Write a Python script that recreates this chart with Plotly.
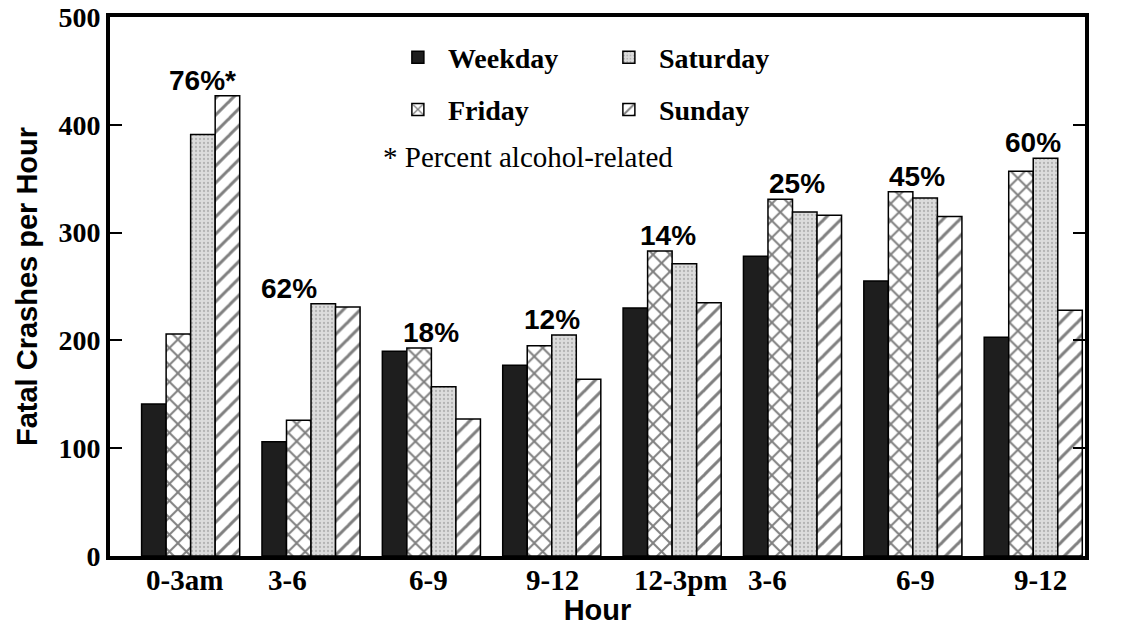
import plotly.graph_objects as go

hours = ["0-3am", "3-6", "6-9", "9-12", "12-3pm", "3-6", "6-9", "9-12"]
weekday = [141, 106, 190, 177, 230, 278, 255, 203]
friday = [206, 126, 193, 195, 283, 331, 338, 357]
saturday = [391, 234, 157, 205, 271, 319, 332, 369]
sunday = [427, 231, 127, 164, 235, 316, 315, 228]
pct_labels = ["76%*", "62%", "18%", "12%", "14%", "25%", "45%", "60%"]
y_ticks = [0, 100, 200, 300, 400, 500]

pos = list(range(len(hours)))
serif = "Liberation Serif"
sans = "Liberation Sans"

fig = go.Figure()
line = dict(color="black", width=1.5)

fig.add_trace(go.Bar(x=pos, y=weekday, name="Weekday", legend="legend",
                     marker=dict(color="#1e1e1e", line=line)))
fig.add_trace(go.Bar(x=pos, y=friday, name="Friday", legend="legend2",
                     marker=dict(color="white", line=line,
                                 pattern=dict(shape="x", fgcolor="black", bgcolor="white",
                                              size=12, solidity=0.3))))
fig.add_trace(go.Bar(x=pos, y=saturday, name="Saturday", legend="legend",
                     marker=dict(color="#d6d6d6", line=line,
                                 pattern=dict(shape=".", fgcolor="#8a8a8a", bgcolor="#dcdcdc",
                                              size=4, solidity=0.25))))
fig.add_trace(go.Bar(x=pos, y=sunday, name="Sunday", legend="legend2",
                     marker=dict(color="white", line=line,
                                 pattern=dict(shape="/", fgcolor="black", bgcolor="white",
                                              size=12, solidity=0.25))))

xshifts = [12, -22, 0, 0, -4, 4, 4, 0]
for i, lab in enumerate(pct_labels):
    top = max(weekday[i], friday[i], saturday[i], sunday[i])
    fig.add_annotation(x=pos[i], y=top, text=lab, showarrow=False,
                       yanchor="bottom", yshift=-2, xshift=xshifts[i],
                       font=dict(family=sans, size=28, color="black", weight="bold"))

# category labels (slightly offset as in the original print)
label_shifts = [-6, -24, -3, 1, 8, -25, 3, 7]
for i, lab in enumerate(hours):
    fig.add_annotation(x=pos[i], y=0, yref="paper", text=lab, showarrow=False,
                       yanchor="top", yshift=-6, xshift=label_shifts[i],
                       font=dict(family=serif, size=29, color="black", weight="bold"))

fig.add_annotation(x=0.278, y=0.74, xref="paper", yref="paper", xanchor="left", yanchor="middle",
                   text="* Percent alcohol-related", showarrow=False,
                   font=dict(family=serif, size=29, color="black"))

legend_common = dict(orientation="h", xanchor="left", yanchor="middle",
                     entrywidth=146, entrywidthmode="pixels", bgcolor="rgba(0,0,0,0)",
                     font=dict(family=serif, size=28, color="black", weight="bold"),
                     itemwidth=50, traceorder="normal")

fig.update_layout(
    width=1123, height=632,
    margin=dict(l=110, r=38, t=17, b=76),
    paper_bgcolor="white", plot_bgcolor="white",
    barmode="group", bargap=0.185, bargroupgap=0,
    legend=dict(x=0.285, y=0.925, **legend_common),
    legend2=dict(x=0.285, y=0.828, **legend_common),
    xaxis=dict(tickmode="array", tickvals=pos, ticktext=[""] * len(hours), range=[-0.67, 7.43],
               automargin=False,
               showline=True, linecolor="black", linewidth=4, mirror=True,
               ticks="", showgrid=False, zeroline=False,
               tickfont=dict(family=serif, size=29, color="black", weight="bold"),
               title=dict(text="Hour", standoff=36,
                          font=dict(family=sans, size=29, color="black", weight="bold"))),
    yaxis=dict(range=[0, 500], tickvals=y_ticks, showline=True, linecolor="black",
               automargin=False, ticklabeloverflow="allow",
               linewidth=4, mirror="ticks", ticks="inside", ticklen=12, tickwidth=2,
               tickcolor="black", showgrid=False, zeroline=False,
               tickfont=dict(family=serif, size=28, color="black", weight="bold"),
               title=dict(text="Fatal Crashes per Hour", standoff=13,
                          font=dict(family=sans, size=29, color="black", weight="bold"))),
)

fig.write_html("out.html", config={"displayModeBar": False},
               post_script="document.body.style.margin='0';")
